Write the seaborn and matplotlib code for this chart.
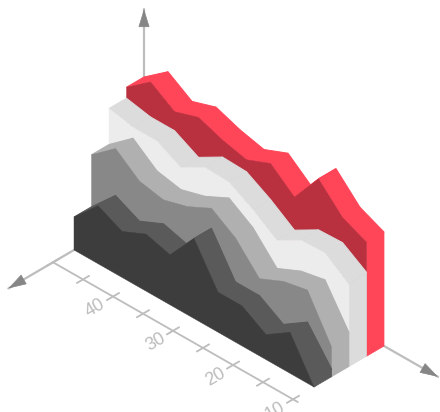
import numpy as np
import pandas as pd
import matplotlib
matplotlib.use("Agg")
import matplotlib.pyplot as plt
import seaborn as sns

# ---- data -----------------------------------------------------------------
ages = [50, 46, 42, 38, 34, 30, 26, 22, 18, 14, 10]
series_a = [33, 58, 46, 57, 50, 80, 40, 40, 25, 41, 0]
series_b = [85, 105, 86, 81, 88, 100, 84, 57, 68, 73, 30]
series_c = [121, 116, 116, 103, 117, 116, 102, 85, 99, 100, 82]
series_d = [132, 151, 135, 143, 134, 128, 138, 118, 150, 125, 114]
back_end_values = [8, 34, 84, 114]
tick_ages = [50, 45, 40, 35, 30, 25, 20, 15, 10]
tick_labels = {40: "40", 30: "30", 20: "20", 10: "10"}
wall_colors = ["#3d3d3d", "#888888", "#ececec", "#b9303f"]
top_colors = ["#5a5a5a", "#b0b0b0", "#dcdcdc", "#ff4558"]

# ---- isometric scale ------------------------------------------------------
ORIGIN = (74.0, 250.0)
AGE_STEP = (6.0, 3.425)
DEPTH_STEP = (17.5, -10.25)


def project(age, depth, value):
    age = np.asarray(age, dtype=float)
    depth = np.asarray(depth, dtype=float)
    value = np.asarray(value, dtype=float)
    x = ORIGIN[0] + AGE_STEP[0] * (50 - age) + DEPTH_STEP[0] * depth
    y = ORIGIN[1] + AGE_STEP[1] * (50 - age) + DEPTH_STEP[1] * depth - value
    return x, y


sns.set_theme(style="white", rc={"font.family": ["Liberation Sans", "DejaVu Sans"]})
fig = plt.figure(figsize=(4.4, 4.12), dpi=100)
ax = fig.add_axes([0, 0, 1, 1])
ax.set_xlim(0, 440)
ax.set_ylim(412, 0)
ax.axis("off")

LINE = "#bdbdbd"
HEAD = "#868686"


def axis_line(x, y, lw=1.3):
    df = pd.DataFrame({"x": np.asarray(x, dtype=float), "y": np.asarray(y, dtype=float)})
    sns.lineplot(data=df, x="x", y="y", sort=False, estimator=None, color=LINE,
                 linewidth=lw, ax=ax, zorder=1)


def arrow(start, tip):
    axis_line([start[0], tip[0]], [start[1], tip[1]], lw=1.6)
    s = np.array(start, dtype=float)
    t = np.array(tip, dtype=float)
    d = (t - s) / np.hypot(*(t - s))
    ax.annotate("", xy=tuple(t), xytext=tuple(t - d * 16),
                arrowprops=dict(arrowstyle="-|>,head_length=0.85,head_width=0.26",
                                color=HEAD, lw=0.5, shrinkA=0, shrinkB=0,
                                mutation_scale=14), zorder=2)


# axes
arrow(project(50, 4, 0), project(50, 4, 200))
arrow(project(50, 0, 0), project(50, -3.75, 0))
arrow(project(10, 4, 0), project(1, 4, 0))

ax_x, ax_y = project(np.array([50, 9.2]), -1.2, np.zeros(2))
axis_line(ax_x, ax_y)
for a in tick_ages:
    tx, ty = project(np.array([a, a]), np.array([-1.55, -0.85]), np.zeros(2))
    axis_line(tx, ty)
    if a in tick_labels:
        lx, ly = project(a, -2.2, 0)
        ax.text(float(lx), float(ly) + 1.5, tick_labels[a], rotation=30, color="#bcbcbc",
                fontsize=13, ha="center", va="center", rotation_mode="anchor",
                clip_on=False, zorder=3)

# isometric ribbons, back to front
all_series = [series_a, series_b, series_c, series_d]
ages_arr = np.array(ages, dtype=float)
for depth in [3, 2, 1, 0]:
    vals = np.array(all_series[depth], dtype=float)
    back = vals.copy()
    back[-1] = back_end_values[depth]
    wall, top = wall_colors[depth], top_colors[depth]
    # end cap
    cx0, cy0 = project([10, 10, 10, 10], [depth, depth, depth + 1, depth + 1],
                       [0, vals[-1], back[-1], 0])
    ax.fill(cx0, cy0, color=top, lw=0.5, zorder=5 + (3 - depth) * 3)
    # top strip, segment by segment
    for i in range(len(ages) - 1):
        a = [ages[i], ages[i + 1], ages[i + 1], ages[i]]
        d = [depth, depth, depth + 1, depth + 1]
        v = [vals[i], vals[i + 1], back[i + 1], back[i]]
        sx, sy = project(a, d, v)
        ax.fill(sx, sy, color=top, lw=0.7, zorder=6 + (3 - depth) * 3)
    # front wall
    wx, wy = project(np.r_[ages_arr, ages_arr[::-1]],
                     np.full(2 * len(ages), depth),
                     np.r_[vals, np.zeros(len(ages))])
    ax.fill(wx, wy, color=wall, lw=0.3, zorder=7 + (3 - depth) * 3)

fig.savefig("out.png", dpi=100, facecolor="white")
